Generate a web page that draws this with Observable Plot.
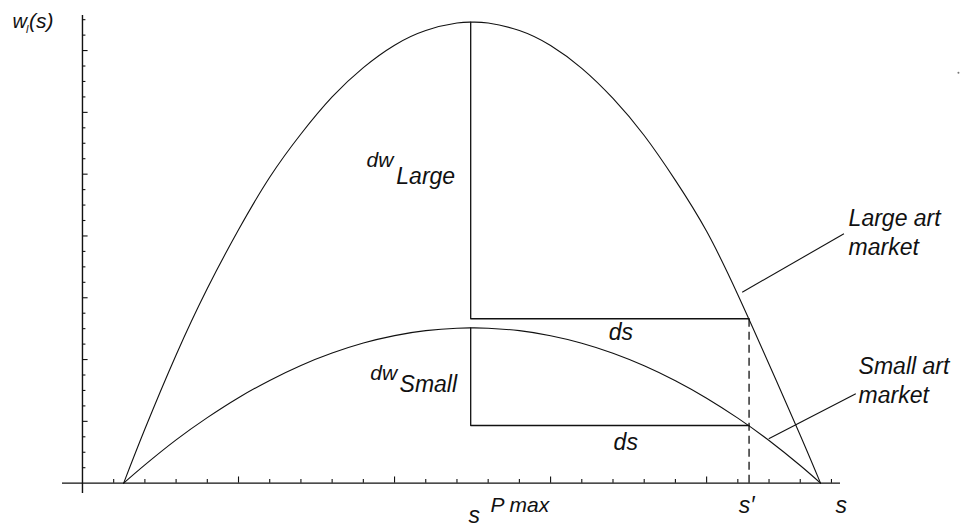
<!DOCTYPE html>
<html>
<head>
<meta charset="utf-8">
<script src="https://cdn.jsdelivr.net/npm/d3@7"></script>
<script src="https://cdn.jsdelivr.net/npm/@observablehq/plot@0.6"></script>
<style>
  body { margin: 0; background: #fff; }
  #chart svg { display: block; }
</style>
</head>
<body>
<div id="chart"></div>
<script>
// ---- Data (x in minor-tick units of s, y in minor-tick units of w) ----
const largeS = [1.32, 2, 3, 4, 5, 6, 7, 8, 9, 10, 11, 12, 12.49, 13, 14, 15, 16, 17, 18, 19, 20, 21, 22, 23, 23.65];
const largeW = [0, 3.5, 8.3, 12.6, 16.4, 19.8, 22.6, 25.0, 26.9, 28.35, 29.3, 29.78, 29.84, 29.78, 29.3, 28.33, 26.85, 24.9, 22.5, 19.6, 16.3, 12.2, 7.7, 3.1, 0];

const smallS = [1.32, 2, 3, 4, 5, 6, 7, 8, 9, 10, 11, 12, 12.49, 13, 14, 15, 16, 17, 18, 19, 20, 21, 22, 23, 23.65];
const smallW = [0, 1.18, 2.8, 4.24, 5.53, 6.65, 7.62, 8.42, 9.07, 9.55, 9.87, 10.03, 10.05, 10.03, 9.87, 9.54, 9.06, 8.41, 7.6, 6.63, 5.5, 4.21, 2.76, 1.14, 0];

const sPmax = 12.44;     // s^P max
const sPrime = 21.36;    // s'
const largePeak = 29.84, largeAtSPrime = 10.64;
const smallPeak = 10.05, smallAtSPrime = 3.73;

const xMajorTicks = [5, 10, 15, 20];
const xMinorTicks = [1, 2, 3, 4, 6, 7, 8, 9, 11, 12, 13, 14, 16, 17, 18, 19, 21, 22, 23, 24];
const yMajorTicks = [4, 8, 12, 16, 20, 24, 28];
const yMinorTicks = [1, 2, 3, 5, 6, 7, 9, 10, 11, 13, 14, 15, 17, 18, 19, 21, 22, 23, 25, 26, 27, 29, 30];

const xDomain = [-0.64, 24.29];
const yDomain = [-0.67, 30.27];

// ---- Tables built from the arrays ----
const large = largeS.map((s, i) => ({s, w: largeW[i]}));
const small = smallS.map((s, i) => ({s, w: smallW[i]}));
const largeBox = [{s: sPmax, w: largePeak}, {s: sPmax, w: largeAtSPrime}, {s: sPrime, w: largeAtSPrime}];
const smallBox = [{s: sPmax, w: smallPeak}, {s: sPmax, w: smallAtSPrime}, {s: sPrime, w: smallAtSPrime}];

// ---- Annotations (data units) ----
const leaders = [
  {x1: 21.14, y1: 12.36, x2: 24.40, y2: 16.14},
  {x1: 21.99, y1: 2.87,  x2: 24.78, y2: 5.79}
];
const plainLabels = [
  {t: "Large art\nmarket", x: 24.55, y: 14.80},
  {t: "Small art\nmarket", x: 24.87, y: 5.22},
  {t: "ds", x: 16.86, y: 9.24},
  {t: "ds", x: 17.02, y: 2.12},
  {t: "s\u2032", x: 21.03, y: -1.90},
  {t: "s", x: 24.13, y: -1.90}
];
// labels with a subscript / superscript part (one <text> each, parts as <tspan>)
const compoundLabels = [
  {base: "w",  x: -2.24, y: 29.49, size: 20, parts: [
    {t: "l",   size: 11, dx: -1, dy: 5},
    {t: "(s)", size: 21, dx: 0.5, dy: -5}]},
  {base: "dw", x: 9.10,  y: 20.45, size: 21, parts: [
    {t: "Large", size: 23, dx: 3, dy: 16.3}]},
  {base: "dw", x: 9.22,  y: 6.65,  size: 21, parts: [
    {t: "Small", size: 23, dx: 2.5, dy: 12}]},
  {base: "s",  x: 12.37, y: -2.55, size: 23, parts: [
    {t: "P max", size: 21, dx: 10.5, dy: -11}]}
];

const font = "'Liberation Sans', Arial, Helvetica, sans-serif";
const ink = "#111";

const chart = Plot.plot({
  width: 963,
  height: 527,
  marginLeft: 62,
  marginRight: 123,
  marginTop: 15,
  marginBottom: 34,
  x: {domain: xDomain, axis: null},
  y: {domain: yDomain, axis: null},
  style: {background: "#fff", fontFamily: font},
  marks: [
    // axes
    Plot.ruleY([0], {x1: xDomain[0], x2: xDomain[1], stroke: ink, strokeWidth: 1.4}),
    Plot.ruleX([0], {y1: yDomain[0], y2: yDomain[1], stroke: ink, strokeWidth: 1.4}),
    Plot.ruleX(xMinorTicks, {x: d => d, y1: 0, y2: 0.24, stroke: ink, strokeWidth: 1.1}),
    Plot.ruleX(xMajorTicks, {x: d => d, y1: 0, y2: 0.40, stroke: ink, strokeWidth: 1.1}),
    Plot.ruleY(yMinorTicks, {y: d => d, x1: 0, x2: 0.11, stroke: ink, strokeWidth: 1.1}),
    Plot.ruleY(yMajorTicks, {y: d => d, x1: 0, x2: 0.18, stroke: ink, strokeWidth: 1.1}),
    // curves
    Plot.line(large, {x: "s", y: "w", curve: "natural", stroke: ink, strokeWidth: 1.1}),
    Plot.line(small, {x: "s", y: "w", curve: "natural", stroke: ink, strokeWidth: 1.1}),
    // dw / ds construction
    Plot.line(largeBox, {x: "s", y: "w", stroke: ink, strokeWidth: 1.3}),
    Plot.line(smallBox, {x: "s", y: "w", stroke: ink, strokeWidth: 1.3}),
    Plot.ruleX([sPrime], {y1: 0, y2: largeAtSPrime, stroke: ink, strokeWidth: 1.3, strokeDasharray: "8,5"}),
    // leader lines
    Plot.link(leaders, {x1: "x1", y1: "y1", x2: "x2", y2: "y2", stroke: ink, strokeWidth: 1.1}),
    // labels
    Plot.text(plainLabels, {x: "x", y: "y", text: "t", textAnchor: "start", lineAnchor: "bottom",
      fontSize: 23, fontStyle: "italic", lineHeight: 1.22, fill: ink}),
    Plot.text(compoundLabels, {x: "x", y: "y", text: "base", textAnchor: "start", lineAnchor: "bottom",
      fontSize: 20, fontStyle: "italic", fill: ink}),
    // stray speck in the original
    Plot.dot([{x: 28.07, y: 26.56}], {x: "x", y: "y", r: 1, fill: "#777", stroke: "none"})
  ]
});

// add subscript / superscript parts as tspans of the same text element
const textGroups = chart.querySelectorAll('g[aria-label="text"]');
const compoundGroup = textGroups[textGroups.length - 1];
d3.select(compoundGroup).selectAll("text").each(function(_, i) {
  const c = compoundLabels[i];
  if (!c) return;
  const t = d3.select(this).attr("font-size", c.size).style("font-size", c.size + "px");
  for (const p of c.parts) {
    t.append("tspan").style("font-size", p.size + "px").attr("dx", p.dx).attr("dy", p.dy).text(p.t);
  }
});

document.getElementById("chart").append(chart);
</script>
</body>
</html>
